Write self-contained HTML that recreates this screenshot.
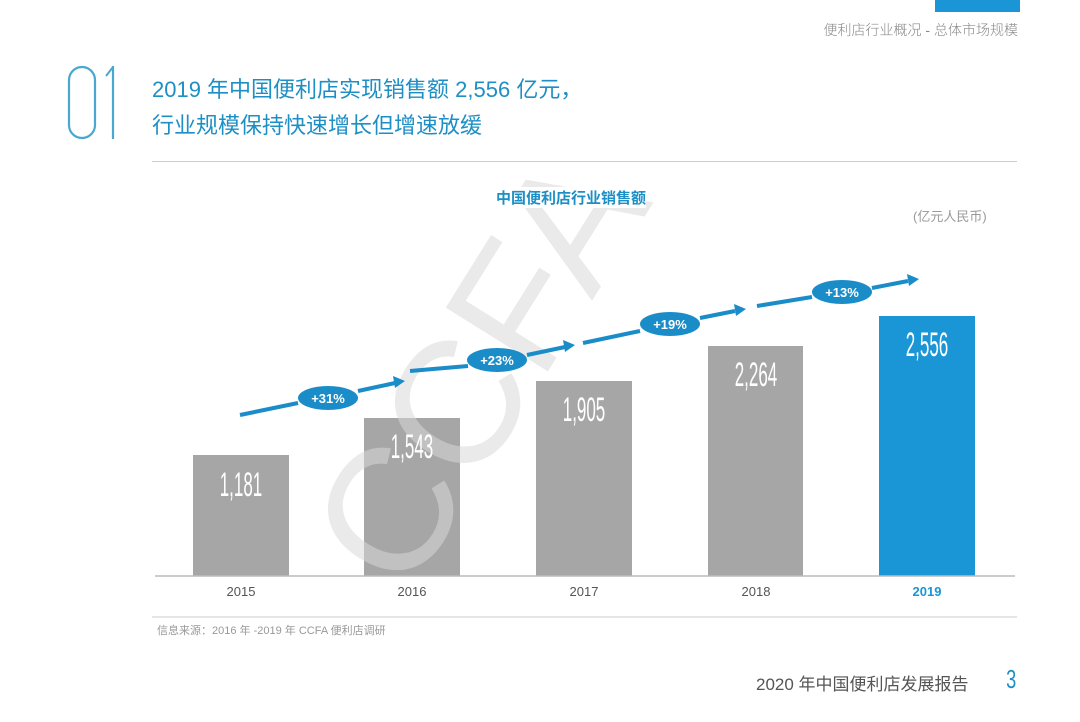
<!DOCTYPE html><html><head><meta charset="utf-8"><style>
body{margin:0;width:1080px;height:722px;background:#fff;overflow:hidden;font-family:"Liberation Sans","Noto Sans CJK SC",sans-serif;position:relative}
.a{position:absolute;white-space:nowrap}
</style></head><body>
<div class="a" style="left:935px;top:0;width:85px;height:12px;background:#1a96d6"></div>
<div class="a" style="right:62px;top:20px;font-size:14px;color:#888;font-weight:300">便利店行业概况 - 总体市场规模</div>
<div class="a" style="left:152px;top:72px;font-size:22px;color:#1d8fc4;line-height:36px">2019 年中国便利店实现销售额 2,556 亿元，<br>行业规模保持快速增长但增速放缓</div>
<div class="a" style="left:152px;top:161px;width:865px;height:1px;background:#ccc"></div>
<svg class="a" style="left:0;top:0" width="1080" height="722">
<rect x="69" y="67" width="26" height="71" rx="13" fill="none" stroke="#4aa8d0" stroke-width="2.2"/>
<line x1="113" y1="66" x2="113" y2="139" stroke="#4aa8d0" stroke-width="2.2"/>
<line x1="113" y1="67" x2="106" y2="76" stroke="#4aa8d0" stroke-width="2"/>
<text x="530" y="400" font-size="175" fill="#e2e2e2" font-family="Liberation Sans" transform="rotate(-58 530 400)" text-anchor="middle">CCFA</text>
<g font-family="Liberation Sans" font-size="34" fill="#fff" text-anchor="middle">
<rect x="193" y="455" width="96" height="121" fill="#a6a6a6"/>
<rect x="364" y="418" width="96" height="158" fill="#a6a6a6"/>
<rect x="536" y="381" width="96" height="195" fill="#a6a6a6"/>
<rect x="708" y="346" width="95" height="230" fill="#a6a6a6"/>
<rect x="879" y="316" width="96" height="260" fill="#1a96d6"/>
</g>
<text x="530" y="400" font-size="175" fill="#fff" opacity="0.3" font-family="Liberation Sans" transform="rotate(-58 530 400)" text-anchor="middle">CCFA</text>
<g font-family="Liberation Sans" font-size="34" fill="#fff" text-anchor="middle">
<text x="241" y="496" transform="translate(241 0) scale(0.5 1) translate(-241 0)">1,181</text>
<text x="412" y="458" transform="translate(412 0) scale(0.5 1) translate(-412 0)">1,543</text>
<text x="584" y="421" transform="translate(584 0) scale(0.5 1) translate(-584 0)">1,905</text>
<text x="756" y="386" transform="translate(756 0) scale(0.5 1) translate(-756 0)">2,264</text>
<text x="927" y="356" transform="translate(927 0) scale(0.5 1) translate(-927 0)">2,556</text>
</g>
<line x1="155" y1="576" x2="1015" y2="576" stroke="#bbb" stroke-width="1.5"/>
<g font-family="Liberation Sans" font-size="13" fill="#555" text-anchor="middle">
<text x="241" y="596">2015</text><text x="412" y="596">2016</text><text x="584" y="596">2017</text><text x="756" y="596">2018</text>
<text x="927" y="596" fill="#1a96d6" font-weight="bold">2019</text></g>
<g stroke="#1a8cc8" stroke-width="4">
<line x1="240" y1="415" x2="298" y2="403"/><line x1="358" y1="391" x2="395" y2="383"/>
<line x1="410" y1="371" x2="468" y2="366"/><line x1="527" y1="355" x2="565" y2="347"/>
<line x1="583" y1="343" x2="640" y2="331"/><line x1="700" y1="318" x2="735" y2="311"/>
<line x1="757" y1="306" x2="812" y2="297"/><line x1="872" y1="288" x2="908" y2="281"/></g>
<g fill="#1a8cc8"><polygon points="405,381 393,376 395,388"/><polygon points="575,345 563,340 565,352"/><polygon points="746,309 734,304 736,316"/><polygon points="919,279 907,274 909,286"/>
<ellipse cx="328" cy="398" rx="30" ry="12"/><ellipse cx="497" cy="360" rx="30" ry="12"/><ellipse cx="670" cy="324" rx="30" ry="12"/><ellipse cx="842" cy="292" rx="30" ry="12"/></g>
<g fill="#fff" font-family="Liberation Sans" font-size="13" font-weight="bold" text-anchor="middle">
<text x="328" y="403">+31%</text><text x="497" y="365">+23%</text><text x="670" y="329">+19%</text><text x="842" y="297">+13%</text></g>
<line x1="152" y1="617" x2="1017" y2="617" stroke="#ccc"/>
</svg>
<div class="a" style="left:496px;top:187px;font-size:15px;font-weight:bold;color:#1d8fc4;background:#fff">中国便利店行业销售额</div>
<div class="a" style="left:913px;top:206px;font-size:13px;color:#999">(亿元人民币)</div>
<div class="a" style="left:157px;top:622px;font-size:11px;color:#999">信息来源：2016 年 -2019 年 CCFA 便利店调研</div>
<div class="a" style="left:756px;top:670px;font-size:17px;color:#555">2020 年中国便利店发展报告</div>
<div class="a" style="left:1004px;top:664px;font-size:26px;color:#1d8fc4;font-weight:300;transform:scaleX(0.7)">3</div>
</body></html>
